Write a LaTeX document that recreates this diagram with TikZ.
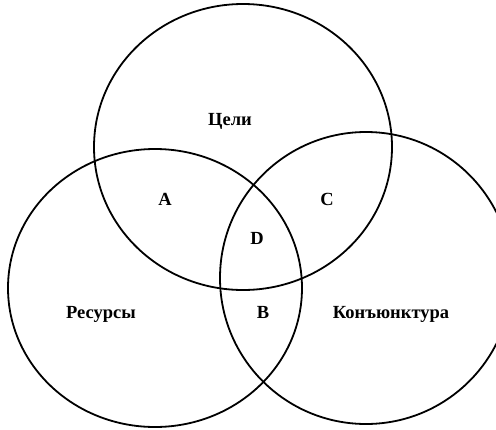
\documentclass[tikz,border=0pt]{standalone}
\usepackage{fontspec}
\setmainfont{Liberation Serif}
\begin{document}
\begin{tikzpicture}[x=1pt,y=-1pt,
  ring/.style={draw=black,line width=1.8pt},
  lbl/.style={inner sep=0pt,anchor=base,font=\fontsize{18.5}{22}\selectfont\bfseries}]
\useasboundingbox (0,0) rectangle (496,429);
\draw[ring] (243,147) ellipse [x radius=149, y radius=143];
\draw[ring] (155,288) ellipse [x radius=147, y radius=139];
\draw[ring] (366,278) ellipse [x radius=146, y radius=146];
\node[lbl] (goals) at (230,125) {Цели};
\node[lbl] (a) at (165,205) {A};
\node[lbl] (c) at (327,205) {C};
\node[lbl] (d) at (257,244) {D};
\node[lbl] (res) at (101,318) {Ресурсы};
\node[lbl] (b) at (263,318) {B};
\node[lbl] (kon) at (391,318) {Конъюнктура};
\end{tikzpicture}
\end{document}
